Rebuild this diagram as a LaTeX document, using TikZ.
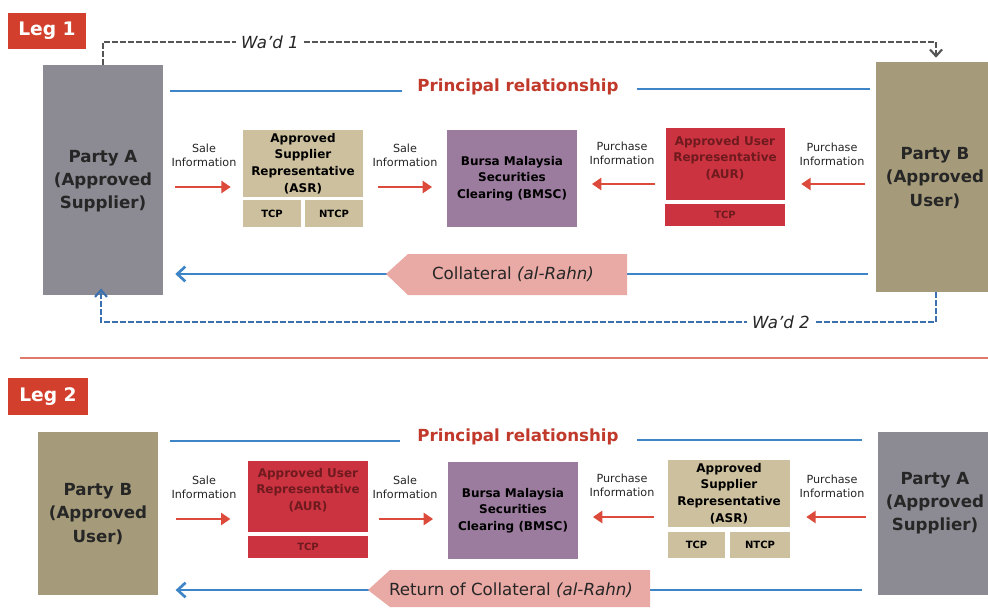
\documentclass[tikz,border=0pt]{standalone}
\usepackage{fontspec}
\setmainfont{DejaVu Sans}
\usetikzlibrary{fit,arrows.meta}
\definecolor{legred}{HTML}{D2402D}
\definecolor{partygrey}{HTML}{8C8A92}
\definecolor{partytan}{HTML}{A59B7A}
\definecolor{asrtan}{HTML}{CDC09E}
\definecolor{bmscpurple}{HTML}{9B7B9E}
\definecolor{aurred}{HTML}{CC3340}
\definecolor{aurtext}{HTML}{6E1A1E}
\definecolor{colpink}{HTML}{E9A9A4}
\definecolor{relblue}{HTML}{3D85C6}
\definecolor{arrred}{HTML}{DB4A3A}
\definecolor{prtext}{HTML}{C0392B}
\definecolor{wadgrey}{HTML}{555555}
\definecolor{wadblue}{HTML}{3A70B0}
\tikzset{
  box/.style={inner sep=0pt, align=center},
  legbox/.style={box, fill=legred},
  legtext/.style={box, text=white, font=\bfseries\fontsize{14}{16}\selectfont},
  partybox/.style={box, font=\bfseries\fontsize{12.5}{17.5}\selectfont, text=black!85},
  repbox/.style={box, font=\bfseries\fontsize{9}{12.5}\selectfont},
  tcpbox/.style={box, font=\bfseries\fontsize{7.5}{8}\selectfont},
  infolabel/.style={align=center, inner sep=1pt, font=\fontsize{8.4}{10.5}\selectfont, text=black!85},
  infoarrow/.style={draw=arrred, line width=2.2pt, -{Triangle[length=7pt,width=9pt]}},
  relline/.style={draw=relblue, line width=1.4pt},
  reltext/.style={inner sep=2pt, text=prtext, font=\bfseries\fontsize{12.5}{14}\selectfont},
  colarrow/.style={draw=relblue, line width=1.5pt, -{Straight Barb[length=6pt,width=11pt,line width=2pt]}},
  coltext/.style={inner sep=0pt, font=\fontsize{12.5}{14}\selectfont, text=black!85},
  wadline/.style={dashed, dash pattern=on 4pt off 2pt, line width=1.2pt},
  wadtip/.style={-{Straight Barb[length=5pt,width=9pt,line width=1.6pt]}},
  wadtext/.style={fill=white, inner sep=4pt, font=\itshape\fontsize{12.5}{14}\selectfont, text=black!85},
}
\begin{document}
\begin{tikzpicture}[x=0.75pt,y=-0.75pt]
\useasboundingbox (0,0) rectangle (988,607);
\fill[white] (0,0) rectangle (988,607);

%% ================= LEG 1 =================
\node[legbox, fit={(8,13) (86,49)}] (leg1) {};
\node[legtext] at (leg1.center) {Leg 1};

\node[partybox, fill=partygrey, fit={(43,65) (163,295)}] (pA1) {};
\node[partybox] at (103,181) {Party A\\(Approved\\Supplier)};
\node[partybox, fill=partytan, fit={(876,62) (988,292)}] (pB1) {};
\node[partybox] at (935,178) {Party B\\(Approved\\User)};

% Wa'd 1
\coordinate (w1a) at (103,42);
\coordinate (w1b) at (936,42);
\draw[wadline, draw=wadgrey, wadtip]
  (pA1.north -| w1a) -- (w1a) -- (w1b) -- ([yshift=3pt]pB1.north -| w1b);
\node[wadtext] (wad1) at (270,42) {Wa'd 1};

% Principal relationship
\node[reltext] (pr1) at (518,87) {Principal relationship};
\draw[relline] (170,91) -- (402,91);
\draw[relline] (637,89) -- (870,89);

% ASR
\node[repbox, fill=asrtan, fit={(243,130) (363,197)}] (asr1) {};
\node[repbox] at (asr1.center) {Approved\\Supplier\\Representative\\(ASR)};
\node[tcpbox, fill=asrtan, fit={(243,200) (301,227)}] (asrtcp1) {};
\node[tcpbox] at (asrtcp1.center) {TCP};
\node[tcpbox, fill=asrtan, fit={(305,200) (363,227)}] (asrntcp1) {};
\node[tcpbox] at (asrntcp1.center) {NTCP};

% BMSC
\node[repbox, fill=bmscpurple, fit={(447,130) (577,227)}] (bmsc1) {};
\node[repbox] at (bmsc1.center) {Bursa Malaysia\\Securities\\Clearing (BMSC)};

% AUR
\node[repbox, fill=aurred, fit={(666,128) (785,200)}] (aur1) {};
\node[repbox, text=aurtext] at (725,158) {Approved User\\Representative\\(AUR)};
\node[tcpbox, fill=aurred, fit={(665,204) (785,226)}] (aurtcp1) {};
\node[tcpbox, text=aurtext] at (aurtcp1.center) {TCP};

% information labels and arrows
\node[infolabel] (si1a) at (204,155) {Sale\\Information};
\node[infolabel] (si1b) at (405,155) {Sale\\Information};
\node[infolabel] (pi1a) at (622,153) {Purchase\\Information};
\node[infolabel] (pi1b) at (832,154) {Purchase\\Information};
\coordinate (ia1) at (0,187);
\draw[infoarrow] ([xshift=9pt]pA1.east |- ia1) -- ([xshift=-9pt]asr1.west |- ia1);
\draw[infoarrow] ([xshift=11pt]asr1.east |- ia1) -- ([xshift=-11pt]bmsc1.west |- ia1);
\coordinate (ia2) at (0,184);
\draw[infoarrow] ([xshift=-8pt]aur1.west |- ia2) -- ([xshift=11pt]bmsc1.east |- ia2);
\draw[infoarrow] ([xshift=-8pt]pB1.west |- ia2) -- ([xshift=12pt]aur1.east |- ia2);

% Collateral
\coordinate (c1) at (0,274);
\draw[colarrow] ([xshift=-6pt]pB1.west |- c1) -- ([xshift=9pt]pA1.east |- c1);
\fill[colpink] (386,274) -- (408,254) -- (627,254) -- (627,295) -- (408,295) -- cycle;
\node[coltext] (col1) at (513,274) {Collateral \textit{(al-Rahn)}};

% Wa'd 2
\coordinate (w2a) at (936,322);
\coordinate (w2b) at (101,322);
\draw[wadline, draw=wadblue, wadtip]
  (pB1.south -| w2a) -- (w2a) -- (w2b) -- ([yshift=5pt]pA1.south -| w2b);
\node[wadtext] (wad2) at (781,322) {Wa'd 2};

% separator
\draw[draw=legred!70, line width=0.8pt] (20,358) -- (988,358);

%% ================= LEG 2 =================
\node[legbox, fit={(8,378) (88,415)}] (leg2) {};
\node[legtext] at (leg2.center) {Leg 2};

\node[partybox, fill=partytan, fit={(38,432) (158,595)}] (pB2) {};
\node[partybox] at (98,514) {Party B\\(Approved\\User)};
\node[partybox, fill=partygrey, fit={(878,432) (988,595)}] (pA2) {};
\node[partybox] at (935,503) {Party A\\(Approved\\Supplier)};

% Principal relationship
\node[reltext] (pr2) at (518,437) {Principal relationship};
\draw[relline] (170,441) -- (400,441);
\draw[relline] (637,440) -- (862,440);

% AUR
\node[repbox, fill=aurred, fit={(248,461) (368,532)}] (aur2) {};
\node[repbox, text=aurtext] at (308,490) {Approved User\\Representative\\(AUR)};
\node[tcpbox, fill=aurred, fit={(248,536) (368,558)}] (aurtcp2) {};
\node[tcpbox, text=aurtext] at (aurtcp2.center) {TCP};

% BMSC
\node[repbox, fill=bmscpurple, fit={(448,462) (578,559)}] (bmsc2) {};
\node[repbox] at (bmsc2.center) {Bursa Malaysia\\Securities\\Clearing (BMSC)};

% ASR
\node[repbox, fill=asrtan, fit={(668,460) (790,527)}] (asr2) {};
\node[repbox] at (asr2.center) {Approved\\Supplier\\Representative\\(ASR)};
\node[tcpbox, fill=asrtan, fit={(668,532) (725,558)}] (asrtcp2) {};
\node[tcpbox] at (asrtcp2.center) {TCP};
\node[tcpbox, fill=asrtan, fit={(730,532) (790,558)}] (asrntcp2) {};
\node[tcpbox] at (asrntcp2.center) {NTCP};

% information labels and arrows
\node[infolabel] (si2a) at (204,487) {Sale\\Information};
\node[infolabel] (si2b) at (405,487) {Sale\\Information};
\node[infolabel] (pi2a) at (622,485) {Purchase\\Information};
\node[infolabel] (pi2b) at (832,486) {Purchase\\Information};
\coordinate (ib1) at (0,519);
\draw[infoarrow] ([xshift=13pt]pB2.east |- ib1) -- ([xshift=-13pt]aur2.west |- ib1);
\draw[infoarrow] ([xshift=8pt]aur2.east |- ib1) -- ([xshift=-11pt]bmsc2.west |- ib1);
\coordinate (ib2) at (0,517);
\draw[infoarrow] ([xshift=-10pt]asr2.west |- ib2) -- ([xshift=11pt]bmsc2.east |- ib2);
\draw[infoarrow] ([xshift=-9pt]pA2.west |- ib2) -- ([xshift=12pt]asr2.east |- ib2);

% Return of Collateral
\coordinate (c2) at (0,590);
\draw[colarrow] ([xshift=-12pt]pA2.west |- c2) -- ([xshift=13pt]pB2.east |- c2);
\fill[colpink] (368,590) -- (390,570) -- (650,570) -- (650,607) -- (390,607) -- cycle;
\node[coltext] (col2) at (511,590) {Return of Collateral \textit{(al-Rahn)}};
\end{tikzpicture}
\end{document}
